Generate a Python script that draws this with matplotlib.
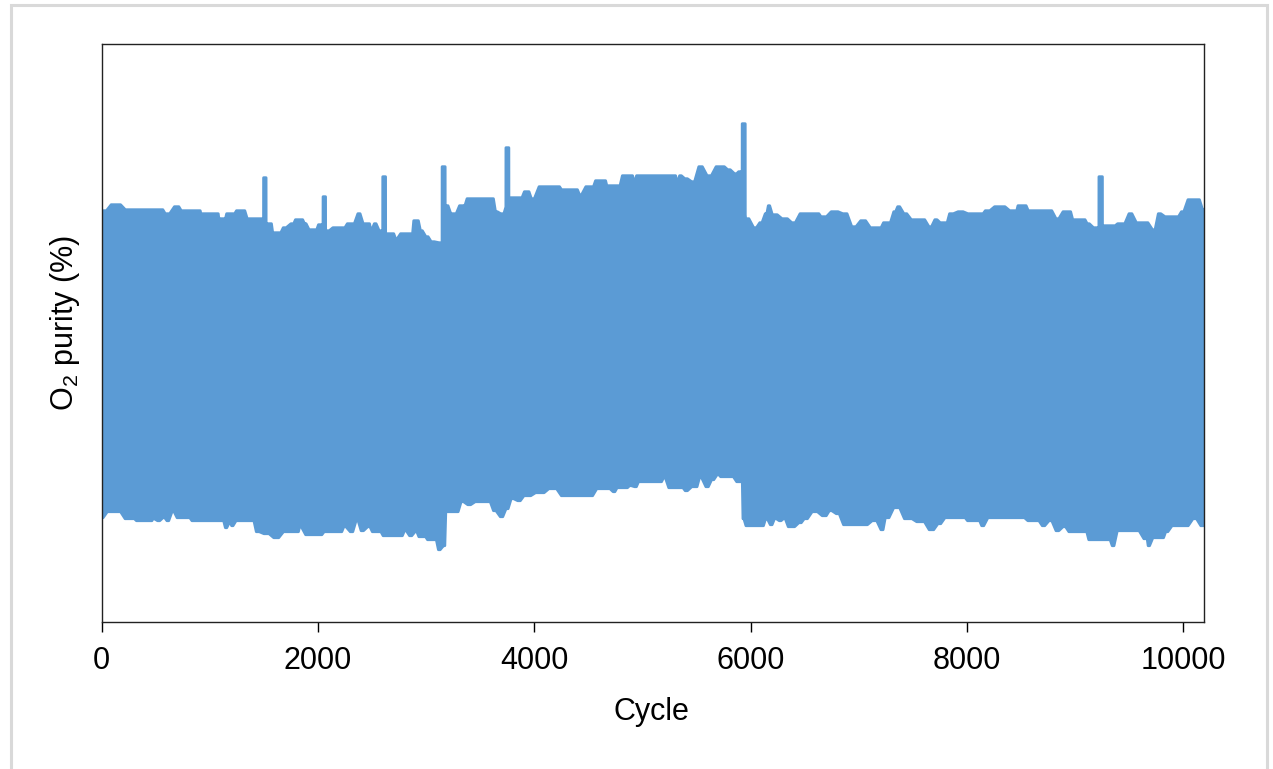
import numpy as np
import matplotlib
matplotlib.use("Agg")
import matplotlib.pyplot as plt
from matplotlib.patches import Rectangle

plt.rcParams["font.family"] = ["Liberation Sans", "DejaVu Sans"]
plt.rcParams["mathtext.default"] = "regular"

# Upper envelope of the O2 purity swing (cycle, %)
upper_cycle = [0, 131, 262, 558, 595, 706, 743, 909, 919, 1076, 1085, 1141, 1159, 1224,
               1252, 1316, 1353, 1483, 1538, 1566, 1585, 1649, 1686, 1770, 1797, 1853,
               1881, 1927, 1983, 2010, 2093, 2149, 2241, 2279, 2325, 2380, 2427, 2473,
               2492, 2528, 2575, 2639, 2695, 2723, 2774, 2871, 2889, 2922, 2954, 3009,
               3056, 3139, 3194, 3237, 3268, 3319, 3352, 3385, 3616, 3648, 3700, 3782,
               3879, 3916, 3944, 3981, 4064, 4228, 4258, 4393, 4425, 4490, 4541, 4573,
               4656, 4675, 4786, 4822, 4906, 4922, 4952, 5146, 5304, 5320, 5350, 5403,
               5469, 5535, 5618, 5701, 5748, 5799, 5865, 5896, 5970, 6044, 6096, 6146,
               6169, 6210, 6328, 6395, 6477, 6626, 6658, 6790, 6873, 6956, 7038, 7135,
               7200, 7237, 7283, 7335, 7367, 7431, 7501, 7598, 7663, 7715, 7764, 7811,
               7848, 7947, 8029, 8144, 8178, 8292, 8458, 8477, 8542, 8575, 8773, 8838,
               8903, 8954, 8986, 9087, 9120, 9185, 9282, 9365, 9402, 9448, 9513, 9582,
               9661, 9731, 9781, 9846, 9948, 9994, 10058, 10142, 10190]
upper_purity = [98.11, 98.17, 98.12, 98.12, 98.08, 98.15, 98.11, 98.11, 98.08, 98.08, 98.03,
                98.03, 98.08, 98.08, 98.11, 98.11, 98.03, 98.03, 97.98, 97.98, 97.89, 97.89,
                97.94, 97.98, 98.02, 98.02, 97.98, 97.92, 97.92, 97.97, 97.91, 97.94, 97.94,
                97.98, 97.98, 98.08, 97.98, 97.98, 97.92, 97.98, 97.91, 97.88, 97.88, 97.83,
                97.88, 97.88, 98.01, 98.01, 97.91, 97.85, 97.80, 97.79, 98.16, 98.08, 98.08,
                98.16, 98.16, 98.23, 98.23, 98.10, 98.08, 98.24, 98.24, 98.30, 98.30, 98.23,
                98.35, 98.35, 98.32, 98.32, 98.27, 98.35, 98.35, 98.41, 98.41, 98.36, 98.36,
                98.46, 98.46, 98.40, 98.46, 98.46, 98.46, 98.40, 98.46, 98.43, 98.40, 98.55,
                98.46, 98.55, 98.55, 98.52, 98.48, 98.50, 98.03, 97.94, 97.99, 98.08, 98.16,
                98.07, 98.03, 97.99, 98.08, 98.08, 98.05, 98.10, 98.08, 97.95, 98.01, 97.94,
                97.94, 97.99, 97.99, 98.10, 98.15, 98.08, 98.02, 98.02, 97.95, 98.02, 97.99,
                97.99, 98.08, 98.10, 98.08, 98.08, 98.11, 98.15, 98.11, 98.16, 98.16, 98.11,
                98.11, 98.03, 98.10, 98.10, 98.02, 98.02, 97.98, 97.94, 97.96, 97.96, 97.98,
                97.98, 98.08, 97.99, 97.99, 97.92, 98.08, 98.05, 98.05, 98.10, 98.22, 98.22,
                98.12]

# Short purity spikes on the upper envelope (start cycle, end cycle, peak %)
spike_start = [1497, 2047, 2599, 3148, 3738, 5923, 9222]
spike_end = [1520, 2070, 2625, 3176, 3765, 5951, 9254]
spike_peak = [98.44, 98.25, 98.45, 98.55, 98.74, 98.98, 98.45]

# Lower envelope of the O2 purity swing (cycle, %)
lower_cycle = [0, 65, 160, 230, 296, 327, 462, 475, 527, 576, 610, 660, 706, 808, 841,
               1122, 1149, 1187, 1205, 1252, 1400, 1437, 1520, 1618, 1700, 1816, 1833,
               1899, 2029, 2064, 2214, 2245, 2312, 2362, 2408, 2473, 2510, 2575, 2609,
               2774, 2806, 2857, 2908, 2939, 2989, 3019, 3088, 3120, 3170, 3185, 3287,
               3333, 3398, 3468, 3583, 3633, 3699, 3749, 3796, 3860, 3916, 4064, 4162,
               4295, 4527, 4591, 4690, 4739, 4773, 4856, 4887, 4938, 4971, 5171, 5202,
               5254, 5368, 5403, 5470, 5498, 5535, 5600, 5650, 5701, 5729, 5831, 5882,
               5922, 5932, 5964, 6113, 6146, 6192, 6229, 6275, 6312, 6358, 6395, 6460,
               6506, 6590, 6691, 6738, 6807, 6873, 7052, 7154, 7219, 7253, 7352, 7450,
               7579, 7681, 7746, 7811, 7977, 8014, 8112, 8144, 8208, 8523, 8575, 8657,
               8708, 8773, 8838, 8903, 8954, 9103, 9134, 9319, 9351, 9402, 9566, 9665,
               9680, 9731, 9813, 9846, 9911, 10028, 10111, 10177, 10190]
lower_purity = [95.04, 95.10, 95.10, 95.03, 95.03, 95.01, 95.01, 95.03, 95.01, 95.04, 95.01,
                95.10, 95.04, 95.04, 95.01, 95.01, 94.94, 94.99, 94.96, 95.01, 95.01, 94.90,
                94.88, 94.84, 94.90, 94.90, 94.95, 94.87, 94.87, 94.90, 94.90, 94.95, 94.90,
                95.01, 94.91, 94.95, 94.90, 94.90, 94.86, 94.86, 94.91, 94.86, 94.90, 94.85,
                94.85, 94.82, 94.82, 94.72, 94.76, 95.10, 95.10, 95.20, 95.17, 95.20, 95.20,
                95.11, 95.05, 95.13, 95.23, 95.21, 95.26, 95.29, 95.33, 95.26, 95.26, 95.33,
                95.33, 95.30, 95.34, 95.34, 95.36, 95.35, 95.40, 95.40, 95.44, 95.34, 95.34,
                95.31, 95.35, 95.35, 95.44, 95.35, 95.42, 95.47, 95.45, 95.45, 95.40, 95.40,
                95.03, 94.96, 94.96, 95.03, 94.97, 95.03, 95.01, 95.03, 94.95, 94.95, 94.99,
                95.03, 95.10, 95.06, 95.11, 95.08, 94.97, 94.97, 95.01, 94.92, 95.04, 95.14,
                95.03, 95.00, 94.92, 94.98, 95.04, 95.04, 95.01, 95.01, 94.96, 95.04, 95.04,
                95.01, 95.01, 94.96, 95.01, 94.91, 94.95, 94.90, 94.90, 94.82, 94.82, 94.76,
                94.91, 94.91, 94.83, 94.76, 94.84, 94.84, 94.90, 94.96, 94.96, 95.03, 94.96,
                94.96]

x_ticks = [0, 2000, 4000, 6000, 8000, 10000]
band_color = "#5B9BD5"


def soft_steps(xs, ys, frac=0.3, max_half=22.0):
    """Staircase whose level changes over a short ramp centred between samples."""
    xs = np.asarray(xs, dtype=float)
    ys = np.asarray(ys, dtype=float)
    out_x = [xs[0]]
    out_y = [ys[0]]
    for i in range(len(xs) - 1):
        gap = xs[i + 1] - xs[i]
        xm = 0.5 * (xs[i] + xs[i + 1])
        h = min(frac * gap, max_half)
        out_x += [xm - h, xm + h]
        out_y += [ys[i], ys[i + 1]]
    out_x.append(xs[-1])
    out_y.append(ys[-1])
    return np.array(out_x), np.array(out_y)


# Upper outline: soft staircase plus narrow spike columns
ux, uy = soft_steps(upper_cycle, upper_purity)
pts = list(zip(ux, uy))
for s0, s1, pk in zip(spike_start, spike_end, spike_peak):
    b0 = np.interp(s0 - 0.5, ux, uy)
    b1 = np.interp(s1 + 0.5, ux, uy)
    pts = [p for p in pts if not (s0 - 0.5 <= p[0] <= s1 + 0.5)]
    pts += [(s0 - 0.5, b0), (s0, pk), (s1, pk), (s1 + 0.5, b1)]
pts.sort(key=lambda p: p[0])
top_x = np.array([p[0] for p in pts])
top_y = np.array([p[1] for p in pts])

lx, ly = soft_steps(lower_cycle, lower_purity)

poly_x = np.concatenate([top_x, lx[::-1]])
poly_y = np.concatenate([top_y, ly[::-1]])

fig = plt.figure(figsize=(12.73, 7.69), dpi=100)
ax = fig.add_axes([0.0799, 0.1915, 0.8656, 0.7517])

ax.fill(poly_x, poly_y, facecolor=band_color, edgecolor=band_color,
        linewidth=2.0, joinstyle="round", zorder=2)

ax.set_xlim(0, 10190)
ax.set_ylim(94.0, 99.78)
ax.set_xticks(x_ticks)
ax.set_xticklabels([str(t) for t in x_ticks])
ax.set_yticks([])
ax.tick_params(axis="x", direction="out", length=7.5, width=1.0, pad=10,
               labelsize=22, colors="black")
for sp in ax.spines.values():
    sp.set_linewidth(1.0)
    sp.set_color("#222222")

ax.set_xlabel("Cycle", fontsize=22)
ax.xaxis.set_label_coords(0.4985, -0.130)
ax.set_ylabel("O$_2$ purity (%)", fontsize=22)
ax.yaxis.set_label_coords(-0.018, 0.517)

# Light frame around the figure
fig.patches.append(Rectangle((11 / 1273, -0.02), (1267 - 11) / 1273, 1 - 5 / 769 + 0.02,
                             transform=fig.transFigure, fill=False,
                             edgecolor="#d9d9d9", linewidth=2.2, zorder=-1))

fig.savefig("out.png", dpi=100)
